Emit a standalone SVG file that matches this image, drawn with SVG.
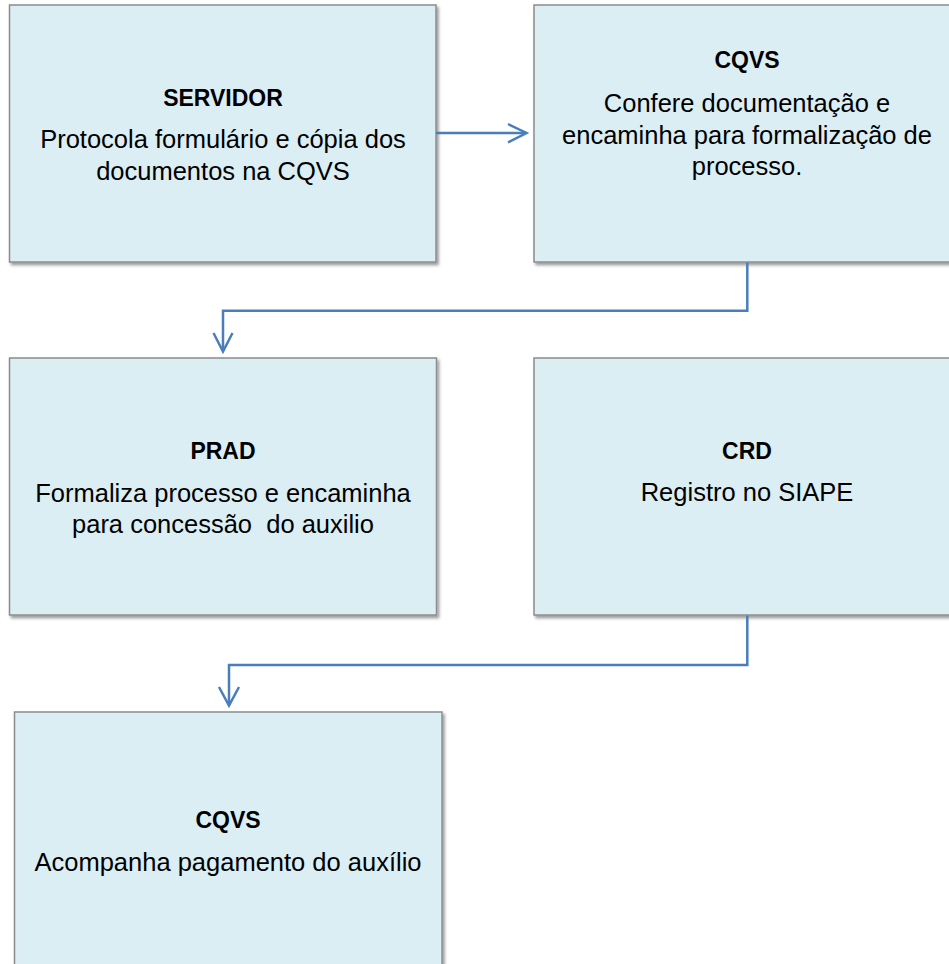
<svg xmlns="http://www.w3.org/2000/svg" width="949" height="964" viewBox="0 0 949 964">
<defs>
<filter id="sh" x="-5%" y="-5%" width="110%" height="110%">
<feDropShadow dx="2" dy="2.5" stdDeviation="1.5" flood-color="#000" flood-opacity="0.4"/>
</filter>
</defs>
<style>
.box{fill:#DBEEF4;stroke:#8C8C8C;stroke-width:1.5;filter:url(#sh)}
.t{font-family:"Liberation Sans",Arial,sans-serif;font-weight:bold;font-size:23px;fill:#000;text-anchor:middle}
.b{font-family:"Liberation Sans",Arial,sans-serif;font-size:25.5px;fill:#000;text-anchor:middle}
.c{fill:none;stroke:#4A7EBB;stroke-width:2.5}
</style>
<rect width="949" height="964" fill="#fff"/>
<g id="servidor">
<rect class="box" x="9.5" y="5" width="426.5" height="257"/>
<text class="t" x="223" y="106">SERVIDOR</text>
<text class="b" x="223" y="148">Protocola formulário e cópia dos</text>
<text class="b" x="223" y="180">documentos na CQVS</text>
</g>
<g id="cqvs1">
<rect class="box" x="534" y="5" width="428" height="257"/>
<text class="t" x="747" y="68">CQVS</text>
<text class="b" x="747" y="111.5">Confere documentação e</text>
<text class="b" x="747" y="143.5">encaminha para formalização de</text>
<text class="b" x="747" y="175">processo.</text>
</g>
<g id="prad">
<rect class="box" x="9.5" y="358" width="427" height="257"/>
<text class="t" x="223" y="459">PRAD</text>
<text class="b" x="223" y="501.5">Formaliza processo e encaminha</text>
<text class="b" x="223" y="532.5" xml:space="preserve">para concessão  do auxilio</text>
</g>
<g id="crd">
<rect class="box" x="534" y="358" width="428" height="257"/>
<text class="t" x="747" y="459">CRD</text>
<text class="b" x="747" y="501">Registro no SIAPE</text>
</g>
<g id="cqvs2">
<rect class="box" x="14.5" y="712" width="427.5" height="270"/>
<text class="t" x="228" y="828">CQVS</text>
<text class="b" x="228" y="870.5">Acompanha pagamento do auxílio</text>
</g>
<g id="connectors">
<path class="c" d="M436,133 H526"/>
<path class="c" d="M508,124 L526.5,133 L508,142.5"/>
<path class="c" d="M747.3,262.5 V310.7 H223 V351"/>
<path class="c" d="M213.5,333 L223,351.5 L232.5,333"/>
<path class="c" d="M747.3,615.5 V665 H229 V705"/>
<path class="c" d="M219,687 L229,705.5 L239,687"/>
</g>
</svg>
